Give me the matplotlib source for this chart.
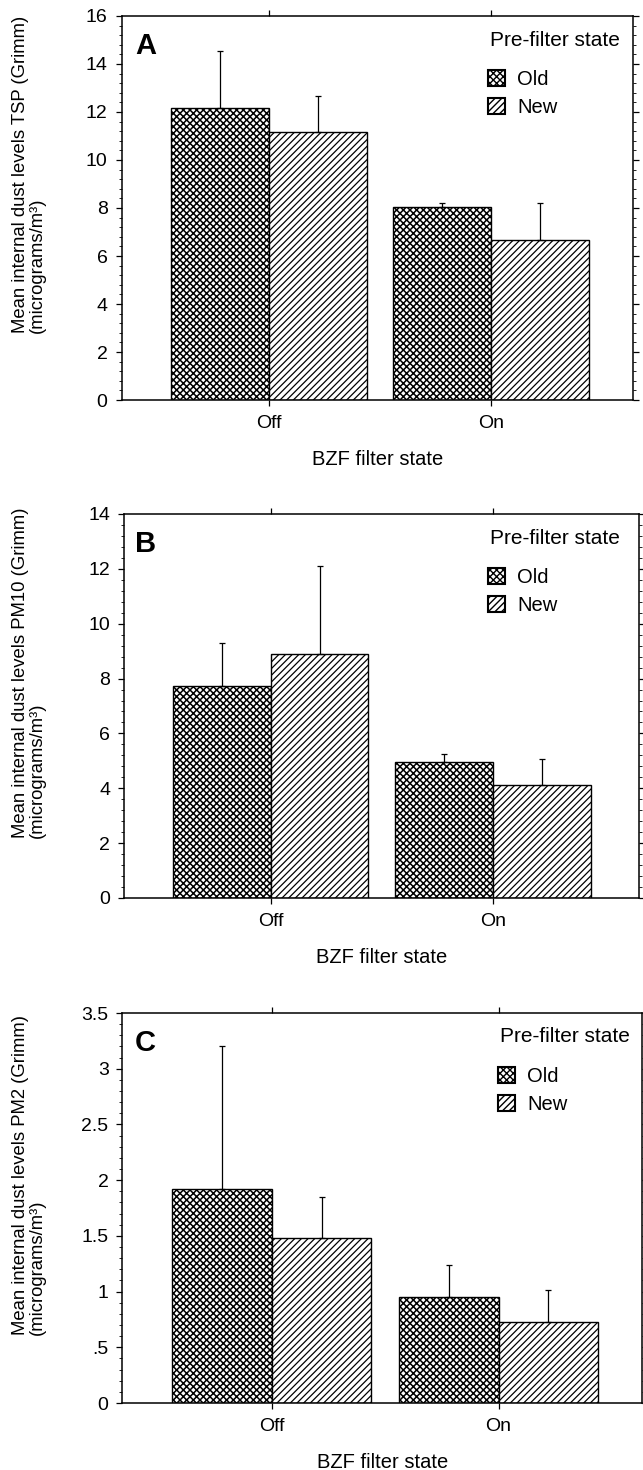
import matplotlib
matplotlib.use("Agg")
import matplotlib.pyplot as plt
from matplotlib.patches import Patch
from matplotlib.ticker import AutoMinorLocator, FixedLocator, FixedFormatter

plt.rcParams['font.family'] = ['Liberation Sans', 'DejaVu Sans']
plt.rcParams['hatch.linewidth'] = 1.0

categories = ["Off", "On"]
series = ["Old", "New"]

# Panel A: TSP
tsp_old = [12.17, 8.05]
tsp_new = [11.15, 6.67]
tsp_old_err = [2.38, 0.15]
tsp_new_err = [1.52, 1.53]

# Panel B: PM10
pm10_old = [7.72, 4.95]
pm10_new = [8.88, 4.13]
pm10_old_err = [1.57, 0.30]
pm10_new_err = [3.22, 0.94]

# Panel C: PM2
pm2_old = [1.92, 0.95]
pm2_new = [1.48, 0.725]
pm2_old_err = [1.28, 0.285]
pm2_new_err = [0.37, 0.285]

ylabels = [
    "Mean internal dust levels TSP (Grimm)\n(micrograms/m\u00b3)",
    "Mean internal dust levels PM10 (Grimm)\n(micrograms/m\u00b3)",
    "Mean internal dust levels PM2 (Grimm)\n(micrograms/m\u00b3)",
]
letters = ["A", "B", "C"]
xlabel = "BZF filter state"
legend_title = "Pre-filter state"

A_ticks = [0, 2, 4, 6, 8, 10, 12, 14, 16]
A_ticklabels = ["0", "2", "4", "6", "8", "10", "12", "14", "16"]
B_ticks = [0, 2, 4, 6, 8, 10, 12, 14]
B_ticklabels = ["0", "2", "4", "6", "8", "10", "12", "14"]
C_ticks = [0, 0.5, 1, 1.5, 2, 2.5, 3, 3.5]
C_ticklabels = ["0", ".5", "1", "1.5", "2", "2.5", "3", "3.5"]

W, H = 643, 1470
fig = plt.figure(figsize=(W / 100, H / 100), dpi=100)

# layout in pixels: left, right, top, bottom, xlim, legend-left, ylabel-start
layouts = [
    dict(l=121.5, r=633, t=16, b=400, xlim=(-0.664, 1.640), leg=488, ylab=333),
    dict(l=124, r=638.5, t=514, b=898, xlim=(-0.659, 1.654), leg=488, ylab=838),
    dict(l=122.5, r=642, t=1013, b=1403, xlim=(-0.657, 1.632), leg=498, ylab=1335),
]

panels = [
    (tsp_old, tsp_new, tsp_old_err, tsp_new_err, 16, A_ticks, A_ticklabels),
    (pm10_old, pm10_new, pm10_old_err, pm10_new_err, 14, B_ticks, B_ticklabels),
    (pm2_old, pm2_new, pm2_old_err, pm2_new_err, 3.5, C_ticks, C_ticklabels),
]

w = 0.44
hatches = ["xxxxx", "/////"]
hatch_lw = [1.1, 0.9]
x = list(range(len(categories)))


def set_hlw(patches, lw):
    for pt in patches:
        if hasattr(pt, "set_hatch_linewidth"):
            pt.set_hatch_linewidth(lw)


for i, (L, p) in enumerate(zip(layouts, panels)):
    old, new, old_err, new_err, ymax, ticks, ticklabels = p
    wpx = L["r"] - L["l"]
    hpx = L["b"] - L["t"]
    ax = fig.add_axes([L["l"] / W, 1 - L["b"] / H, wpx / W, hpx / H])
    xo = [xi - w / 2 for xi in x]
    xn = [xi + w / 2 for xi in x]
    b1 = ax.bar(xo, old, width=w, color="white", edgecolor="black", hatch=hatches[0], linewidth=1.0, zorder=2)
    b2 = ax.bar(xn, new, width=w, color="white", edgecolor="black", hatch=hatches[1], linewidth=1.0, zorder=2)
    set_hlw(b1, hatch_lw[0])
    set_hlw(b2, hatch_lw[1])
    ax.errorbar(xo, old, yerr=[[0] * len(old), old_err], fmt="none", ecolor="black",
                elinewidth=0.9, capsize=2, capthick=0.9, zorder=3)
    ax.errorbar(xn, new, yerr=[[0] * len(new), new_err], fmt="none", ecolor="black",
                elinewidth=0.9, capsize=2, capthick=0.9, zorder=3)
    ax.set_xlim(*L["xlim"])
    ax.set_ylim(0, ymax)
    ax.yaxis.set_major_locator(FixedLocator(ticks))
    ax.yaxis.set_major_formatter(FixedFormatter(ticklabels))
    ax.yaxis.set_minor_locator(AutoMinorLocator(5))
    ax.set_xticks(x)
    ax.set_xticklabels(categories)
    ax.tick_params(axis="both", which="major", labelsize=14, direction="out", length=4, width=0.9,
                   right=True, top=True, pad=6)
    ax.tick_params(axis="x", which="major", pad=7)
    ax.tick_params(axis="y", which="minor", direction="out", length=2, width=0.6, right=True)
    for s in ax.spines.values():
        s.set_linewidth(1.1)
    ax.set_xlabel(xlabel, fontsize=14.5, labelpad=13)
    ax.text((29 - L["l"]) / wpx, (L["b"] - L["ylab"]) / hpx, ylabels[i], transform=ax.transAxes,
            rotation=90, ha="center", va="bottom", multialignment="left", fontsize=13.3,
            linespacing=1.05)
    ax.text((135 - L["l"]) / wpx, 1 - 16 / hpx, letters[i], transform=ax.transAxes, fontsize=21,
            fontweight="bold", ha="left", va="top")
    ax.text((L["leg"] + 2 - L["l"]) / wpx, 1 - 24 / hpx, legend_title, transform=ax.transAxes,
            fontsize=15, ha="left", va="center")
    handles = [Patch(facecolor="white", edgecolor="black", hatch=hatches[0], linewidth=1.5, label=series[0]),
               Patch(facecolor="white", edgecolor="black", hatch=hatches[1], linewidth=1.5, label=series[1])]
    ax.legend(handles=handles, loc="upper left",
              bbox_to_anchor=((L["leg"] - L["l"]) / wpx, 1 - 54 / hpx), frameon=False, fontsize=14.5,
              handlelength=0.85, handleheight=0.85, handletextpad=0.6, borderpad=0,
              borderaxespad=0, labelspacing=0.45)

fig.savefig("out.png", dpi=100)
